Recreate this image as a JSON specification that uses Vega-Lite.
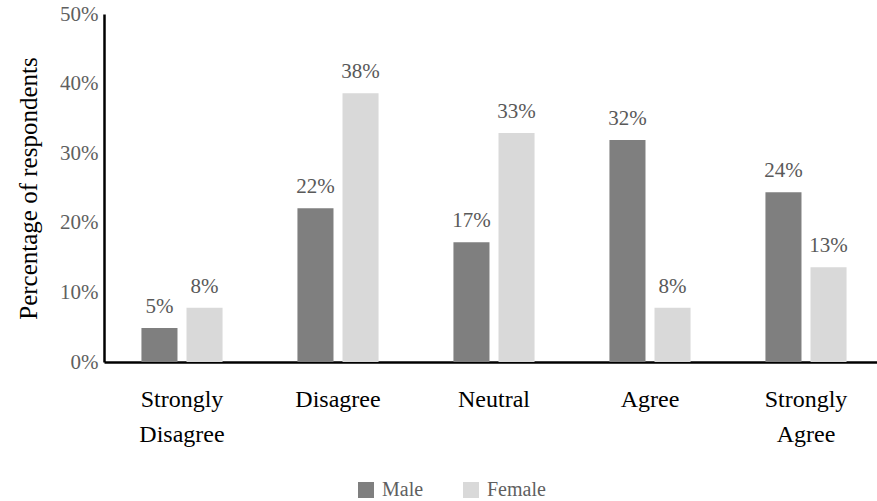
{
  "$schema": "https://vega.github.io/schema/vega-lite/v6.json",
  "autosize": "none",
  "padding": {"left": 104, "top": 14, "right": 0, "bottom": 139},
  "width": 780,
  "height": 348,
  "background": "white",
  "data": {
    "values": [
      {"response": "Strongly Disagree", "gender": "Male", "pct": 0.049, "label": "5%"},
      {"response": "Strongly Disagree", "gender": "Female", "pct": 0.078, "label": "8%"},
      {"response": "Disagree", "gender": "Male", "pct": 0.221, "label": "22%"},
      {"response": "Disagree", "gender": "Female", "pct": 0.386, "label": "38%"},
      {"response": "Neutral", "gender": "Male", "pct": 0.172, "label": "17%"},
      {"response": "Neutral", "gender": "Female", "pct": 0.329, "label": "33%"},
      {"response": "Agree", "gender": "Male", "pct": 0.319, "label": "32%"},
      {"response": "Agree", "gender": "Female", "pct": 0.078, "label": "8%"},
      {"response": "Strongly Agree", "gender": "Male", "pct": 0.244, "label": "24%"},
      {"response": "Strongly Agree", "gender": "Female", "pct": 0.136, "label": "13%"}
    ]
  },
  "encoding": {
    "x": {
      "field": "response",
      "type": "nominal",
      "sort": ["Strongly Disagree", "Disagree", "Neutral", "Agree", "Strongly Agree"],
      "scale": {"paddingInner": 0.48, "paddingOuter": 0.24},
      "axis": {
        "title": null,
        "labelAngle": 0,
        "ticks": false,
        "domainColor": "black",
        "domainWidth": 2.5,
        "labelFont": "Liberation Serif",
        "labelFontSize": 24,
        "labelFontWeight": "normal",
        "labelColor": "black",
        "labelPadding": 44,
        "labelLineHeight": 35,
        "labelBaseline": "alphabetic",
        "labelExpr": "split(datum.label, ' ')"
      }
    },
    "xOffset": {
      "field": "gender",
      "type": "nominal",
      "sort": ["Male", "Female"],
      "scale": {"paddingInner": 0.2, "paddingOuter": 0}
    },
    "y": {
      "field": "pct",
      "type": "quantitative",
      "scale": {"domain": [0, 0.5]},
      "axis": {
        "title": "Percentage of respondents",
        "titleFont": "Liberation Serif",
        "titleFontSize": 25,
        "titleFontWeight": "normal",
        "titleColor": "black",
        "titlePadding": 18,
        "format": ".0%",
        "values": [0, 0.1, 0.2, 0.3, 0.4, 0.5],
        "grid": false,
        "ticks": false,
        "domainColor": "black",
        "domainWidth": 2.5,
        "labelFont": "Liberation Serif",
        "labelFontSize": 21,
        "labelColor": "#5f5f5f",
        "labelPadding": 6
      }
    }
  },
  "layer": [
    {
      "mark": {"type": "bar", "clip": false},
      "encoding": {
        "color": {
          "field": "gender",
          "type": "nominal",
          "sort": ["Male", "Female"],
          "scale": {"domain": ["Male", "Female"], "range": ["#7f7f7f", "#d9d9d9"]},
          "legend": {
            "title": null,
            "orient": "none",
            "direction": "horizontal",
            "legendX": 252,
            "legendY": 466,
            "symbolType": "square",
            "symbolSize": 256,
            "symbolStrokeWidth": 0,
            "symbolOpacity": 1,
            "labelFont": "Liberation Serif",
            "labelFontSize": 20,
            "labelColor": "#5f5f5f",
            "labelOffset": 6,
            "columnPadding": 37
          }
        }
      }
    },
    {
      "mark": {
        "type": "text",
        "baseline": "alphabetic",
        "dy": -15,
        "font": "Liberation Serif",
        "fontSize": 21,
        "color": "#595959"
      },
      "encoding": {
        "text": {"field": "label"}
      }
    }
  ],
  "config": {
    "view": {"stroke": null}
  }
}
